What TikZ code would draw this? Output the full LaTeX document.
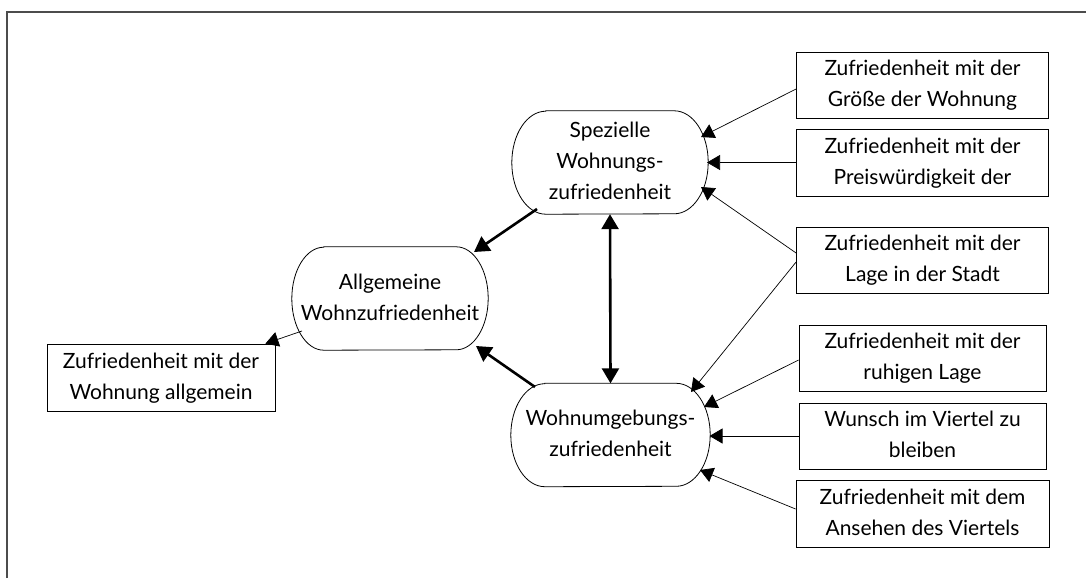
\documentclass[tikz,border=0pt]{standalone}
\usepackage{fontspec}
\setmainfont{Lato}
\usetikzlibrary{arrows.meta,calc}
\newcommand\ovalborder[2]{\draw[line width=0.8pt] ($(#1.north west)+(#2,0)$) -- ($(#1.north east)+(-#2,0)$) arc[start angle=-90,end angle=90,x radius=#2,y radius=51.5] -- ($(#1.south west)+(#2,0)$) arc[start angle=90,end angle=270,x radius=#2,y radius=51.5] -- cycle;}
\begin{document}
\begin{tikzpicture}[x=1pt,y=-1pt,
  every node/.style={font=\fontsize{21}{31}\selectfont, align=center, inner sep=0pt},
  itembox/.style={draw, line width=0.8pt, rectangle, minimum height=66pt},
  oval/.style={minimum width=196pt, minimum height=103pt},
  thinarrow/.style={line width=0.7pt, -{Triangle[length=13pt,width=15pt]}},
  thickarrow/.style={line width=2.6pt, -{Triangle[length=15pt,width=17pt]}},
  botharrow/.style={line width=2.6pt, {Triangle[length=15pt,width=17pt]}-{Triangle[length=15pt,width=17pt]}},
]
\useasboundingbox (0,0) rectangle (1086,578);
\draw[line width=1.5pt, black!70] (7,578) -- (7,12) -- (1086,12);

\node[oval] (sp) at (610,162.5) {\strut Spezielle\\\strut Wohnungs-\\\strut zufriedenheit};
\node[oval] (al) at (390,298.5) {\strut Allgemeine\\\strut Wohnzufriedenheit};
\node[oval, minimum width=199pt] (wu) at (610.5,435) {\strut Wohnumgebungs-\\\strut zufriedenheit};
\ovalborder{sp}{34}
\ovalborder{al}{32}
\ovalborder{wu}{34}

\node[itembox, minimum width=252pt] (b1) at (922.5,85) {\strut Zufriedenheit mit der\\\strut Größe der Wohnung};
\node[itembox, minimum width=252pt, minimum height=67pt] (b2) at (922.5,162.5) {\strut Zufriedenheit mit der\\\strut Preiswürdigkeit der};
\node[itembox, minimum width=252pt] (b3) at (922.5,260) {\strut Zufriedenheit mit der\\\strut Lage in der Stadt};
\node[itembox, minimum width=247pt] (b4) at (922.5,358) {\strut Zufriedenheit mit der\\\strut ruhigen Lage};
\node[itembox, minimum width=247pt] (b5) at (922.5,436) {\strut Wunsch im Viertel zu\\\strut bleiben};
\node[itembox, minimum width=253pt, minimum height=67pt] (b6) at (922.5,513.5) {\strut Zufriedenheit mit dem\\\strut Ansehen des Viertels};
\node[itembox, minimum width=228pt, minimum height=67pt] (b0) at (161,377.5) {\strut Zufriedenheit mit der\\\strut Wohnung allgemein};

\draw[thinarrow] ($(b1.west)+(0,4)$) -- ($(sp.center)+(91,-25.5)$);
\draw[thinarrow] (b2.west) -- ($(sp.center)+(97,0)$);
\draw[thinarrow] ($(b3.west)+(0,-7)$) -- ($(sp.center)+(91,24.5)$);
\draw[thinarrow] ($(b3.west)+(0,2)$) -- ($(wu.center)+(80.5,-43)$);
\draw[thinarrow] ($(b4.west)+(0,2)$) -- ($(wu.center)+(93.5,-28)$);
\draw[thinarrow] (b5.west) -- ($(wu.center)+(99,1)$);
\draw[thinarrow] ($(b6.west)+(0,-4.5)$) -- ($(wu.center)+(89.5,35)$);
\draw[thinarrow] ($(al.center)+(-88,32.5)$) -- ($(b0.north east)+(-10,0)$);

\draw[thickarrow] ($(sp.center)+(-73,46.5)$) -- ($(al.center)+(84,-46.5)$);
\draw[thickarrow] ($(wu.center)+(-75.5,-48)$) -- ($(al.center)+(86,47.5)$);
\draw[botharrow] (sp.south) -- (wu.north);
\end{tikzpicture}
\end{document}
